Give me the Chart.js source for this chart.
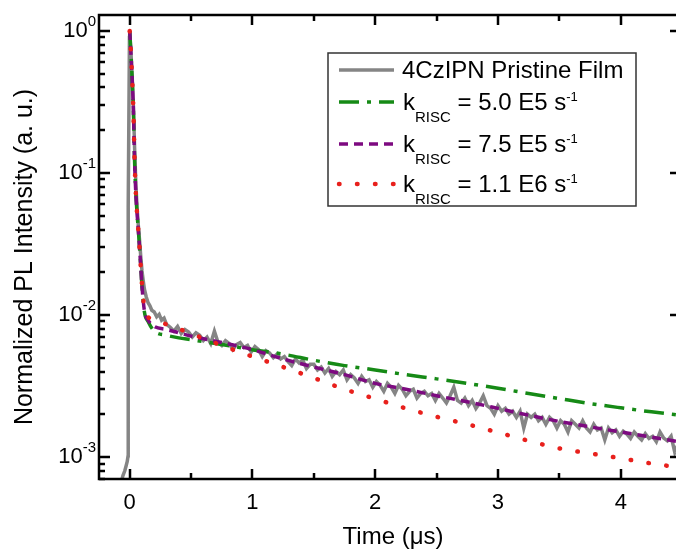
<!DOCTYPE html>
<html>
<head>
<meta charset="utf-8">
<script src="https://cdn.jsdelivr.net/npm/chart.js@4"></script>
<style>
  html, body { margin: 0; padding: 0; background: #fff; overflow: hidden; }
  #wrap { width: 676px; height: 549px; }
</style>
</head>
<body>
<div id="wrap"><canvas id="plChart" width="676" height="549"></canvas></div>
<script>
const riseTime   = [-0.10, -0.07, -0.055, -0.04, -0.03, -0.02, -0.013, -0.012, -0.002, 0];
const riseValues = [5.2e-4, 6.6e-4, 7.4e-4, 8.0e-4, 8.6e-4, 9.3e-4, 1.02e-3, 0.058, 0.9, 1.0];

const decayTime   = [0.01, 0.02, 0.03, 0.04, 0.05, 0.06, 0.07, 0.08, 0.09, 0.10, 0.11,
                     0.12, 0.135, 0.15, 0.165, 0.18, 0.20, 0.22, 0.24, 0.26, 0.28];
const decayValues = [0.72, 0.48, 0.30, 0.15, 0.085, 0.057, 0.043, 0.034, 0.026, 0.0205, 0.0175,
                     0.0152, 0.0134, 0.0122, 0.0116, 0.0108, 0.0105, 0.0097, 0.0101, 0.0092, 0.0095];

// tail sampled every 0.03 us from 0.30 us
const tailStart = 0.30;
const tailStep = 0.03;
const tailValues = [
  0.0086, 0.0082, 0.0077, 0.0083, 0.0074, 0.0079, 0.0076, 0.0070, 0.0075, 0.0072,
  0.0066, 0.0070, 0.0063, 0.0077, 0.0064, 0.0061, 0.0066, 0.0063, 0.0057, 0.0062,
  0.0064, 0.0059, 0.0061, 0.0055, 0.0060, 0.0057, 0.0051, 0.0056, 0.0054, 0.0050,
  0.0053, 0.0049, 0.0051, 0.0047, 0.0044, 0.0049, 0.0046, 0.0048, 0.0042, 0.0045,
  0.0045, 0.0041, 0.0043, 0.0039, 0.0042, 0.0037, 0.0040, 0.0038, 0.0041, 0.0035,
  0.0038, 0.0036, 0.0033, 0.0037, 0.0034, 0.0035, 0.0031, 0.0034, 0.0032, 0.0029,
  0.0033, 0.0031, 0.0028, 0.0032, 0.0030, 0.0027, 0.0029, 0.0030, 0.0026, 0.0028,
  0.0029, 0.0027, 0.0028, 0.0025, 0.0028, 0.0026, 0.0024, 0.0027, 0.0031, 0.0025,
  0.0024, 0.0026, 0.0023, 0.0025, 0.0022, 0.0024, 0.0027, 0.0023, 0.0022, 0.0020,
  0.0023, 0.0021, 0.0022, 0.0020, 0.0021, 0.0019, 0.0021, 0.0016, 0.0020, 0.0019,
  0.0020, 0.0018, 0.0019, 0.0017, 0.0019, 0.0018, 0.0016, 0.0018, 0.0017, 0.0015,
  0.0018, 0.0017, 0.0016, 0.0018, 0.0016, 0.0015, 0.0017, 0.00155, 0.0016, 0.00132,
  0.0016, 0.00148, 0.00155, 0.0014, 0.00152, 0.00145, 0.00135, 0.0015, 0.0014, 0.00132,
  0.00146, 0.00135, 0.0014, 0.00128, 0.0015, 0.00136, 0.0013, 0.0014, 0.00108, 0.00125
];

// simulated decays
const fitTime = [0, 0.01, 0.02, 0.03, 0.04, 0.05, 0.06, 0.07, 0.08, 0.09, 0.10, 0.12, 0.15, 0.20,
                 0.30, 0.40, 0.50, 0.75, 1.00, 1.25, 1.50, 1.75, 2.00, 2.25, 2.50, 2.75, 3.00,
                 3.25, 3.50, 3.75, 4.00, 4.25, 4.50];
const fit50  = [1.0, 0.70, 0.46, 0.28, 0.12, 0.072, 0.052, 0.040, 0.030, 0.022, 0.016, 0.0105, 0.0090, 0.0077,
                0.0072, 0.0069, 0.0067, 0.0062, 0.0057, 0.0053, 0.0048, 0.0044, 0.0041, 0.0038, 0.00355, 0.0033, 0.00305,
                0.0028, 0.00258, 0.00238, 0.00222, 0.00208, 0.00196];
const fit75  = [1.0, 0.70, 0.46, 0.28, 0.12, 0.072, 0.052, 0.040, 0.030, 0.022, 0.016, 0.0107, 0.0092, 0.0083,
                0.0079, 0.0075, 0.0071, 0.0064, 0.0057, 0.0049, 0.0043, 0.0038, 0.0033, 0.0030, 0.0027, 0.00245, 0.0022,
                0.00197, 0.00178, 0.00163, 0.0015, 0.00138, 0.00127];
const fit110 = [1.0, 0.70, 0.46, 0.28, 0.12, 0.072, 0.052, 0.040, 0.030, 0.022, 0.0165, 0.0112, 0.0097, 0.0092,
                0.0086, 0.0080, 0.0074, 0.0061, 0.0051, 0.0043, 0.0036, 0.0030, 0.00257, 0.0022, 0.00192, 0.0017, 0.00149,
                0.0013, 0.00115, 0.00106, 0.00098, 0.0009, 0.00084];

const traceLabel = "4CzIPN Pristine Film";
const rateLabels = ["5.0 E5", "7.5 E5", "1.1 E6"];
const xTickLabels = [0, 1, 2, 3, 4];
const yTickExps = [0, -1, -2, -3];

const FONT = '"Liberation Sans", Arial, sans-serif';

const toPts = (xs, ys) => ys.map((v, i) => ({ x: xs[i], y: v }));
const tailTime = tailValues.map((v, i) => +(tailStart + i * tailStep).toFixed(3));
const grayPts = toPts(riseTime, riseValues)
  .concat(toPts(decayTime, decayValues))
  .concat(toPts(tailTime, tailValues));

function richText(ctx, x, base, parts, measureOnly) {
  // parts: [text, size, dy]
  let w = 0;
  parts.forEach(([t, size, dy]) => {
    ctx.font = size + 'px ' + FONT;
    if (!measureOnly) ctx.fillText(t, x + w, base + dy);
    w += ctx.measureText(t).width;
  });
  return w;
}

const frame = {
  id: 'frame',
  afterDraw(chart) {
    const { ctx, chartArea: a, scales: { x, y } } = chart;
    ctx.save();
    ctx.strokeStyle = '#000';
    ctx.fillStyle = '#000';
    ctx.lineWidth = 2.5;
    ctx.lineCap = 'butt';

    // axis lines (right one falls just off the picture)
    ctx.beginPath();
    ctx.moveTo(a.right + 2, a.top); ctx.lineTo(a.left, a.top);
    ctx.lineTo(a.left, a.bottom); ctx.lineTo(a.right + 2, a.bottom);
    ctx.stroke();

    // x ticks top & bottom, minors at halves
    ctx.beginPath();
    xTickLabels.forEach(v => {
      [v, v + 0.5].forEach(t => {
        if (t > x.max) return;
        const px = Math.round(x.getPixelForValue(t));
        const len = Number.isInteger(t) ? 10 : 6;
        ctx.moveTo(px, a.bottom); ctx.lineTo(px, a.bottom - len);
        ctx.moveTo(px, a.top); ctx.lineTo(px, a.top + len);
      });
    });
    // y ticks left (major + minor) and right (major)
    for (let d = -4; d <= 0; d++) {
      for (let m = 1; m <= 9; m++) {
        const v = m * Math.pow(10, d);
        if (v < y.min || v > y.max) continue;
        const py = Math.round(y.getPixelForValue(v));
        const len = m === 1 ? 11 : 6;
        ctx.moveTo(a.left, py); ctx.lineTo(a.left + len, py);
        if (m === 1) { ctx.moveTo(a.right, py); ctx.lineTo(a.right - 6, py); }
      }
    }
    ctx.stroke();

    // x tick labels
    ctx.textAlign = 'center';
    ctx.textBaseline = 'alphabetic';
    ctx.font = '22px ' + FONT;
    xTickLabels.forEach(v => {
      ctx.fillText(String(v), x.getPixelForValue(v), 509);
    });

    // y tick labels 10^n
    ctx.textAlign = 'left';
    yTickExps.forEach(e => {
      const py = y.getPixelForValue(Math.pow(10, e));
      const parts = [['10', 22, 6], [String(e), 15, -5]];
      const w = richText(ctx, 0, py, parts, true);
      richText(ctx, 96 - w, py, parts, false);
    });

    // axis titles
    ctx.textAlign = 'center';
    ctx.font = '24px ' + FONT;
    ctx.fillText('Time (\u03BCs)', 393, 544);
    ctx.save();
    ctx.translate(32, 257);
    ctx.rotate(-Math.PI / 2);
    ctx.font = '25px ' + FONT;
    ctx.fillText('Normalized PL Intensity (a. u.)', 0, 0);
    ctx.restore();

    // legend
    ctx.lineWidth = 1.5;
    ctx.strokeStyle = '#333';
    ctx.strokeRect(328, 53, 308, 153);
    const rows = [70, 102, 144, 184];
    const sets = chart.data.datasets;
    rows.forEach((ry, i) => {
      const ds = sets[i];
      ctx.save();
      ctx.beginPath();
      ctx.strokeStyle = ds.borderColor;
      ctx.lineWidth = ds.borderWidth;
      ctx.lineCap = ds.borderCapStyle || 'butt';
      ctx.setLineDash(ds.borderDash || []);
      ctx.moveTo(339, ry); ctx.lineTo(394, ry);
      ctx.stroke();
      ctx.restore();
      ctx.textAlign = 'left';
      if (i === 0) {
        richText(ctx, 402, ry + 8, [[traceLabel, 24, 0]]);
      } else {
        richText(ctx, 403, ry + 8, [
          ['k', 24, 0], ['RISC', 15, 12], [' = ' + rateLabels[i - 1] + ' s', 24, 0], ['-1', 13, -9]
        ]);
      }
    });
    ctx.restore();
  }
};

new Chart(document.getElementById('plChart'), {
  type: 'scatter',
  data: {
    datasets: [
      { label: traceLabel, data: grayPts, showLine: true, borderColor: '#858585',
        borderWidth: 3.5, order: 4, tension: 0 },
      { label: rateLabels[0], data: toPts(fitTime, fit50), showLine: true, borderColor: '#168a16',
        borderWidth: 3.5, borderDash: [20, 8, 4, 8], order: 3, cubicInterpolationMode: 'monotone' },
      { label: rateLabels[1], data: toPts(fitTime, fit75), showLine: true, borderColor: '#7d0a80',
        borderWidth: 3.5, borderDash: [9, 6], order: 2, cubicInterpolationMode: 'monotone' },
      { label: rateLabels[2], data: toPts(fitTime, fit110), showLine: true, borderColor: '#e8201c',
        borderWidth: 4.5, borderDash: [0.5, 17.5], borderCapStyle: 'round', order: 1,
        cubicInterpolationMode: 'monotone' }
    ]
  },
  options: {
    responsive: false,
    animation: false,
    devicePixelRatio: 1,
    layout: { padding: { left: 99, top: 15, right: 0, bottom: 70 } },
    elements: { point: { radius: 0 } },
    plugins: { legend: { display: false }, tooltip: { enabled: false } },
    scales: {
      x: { type: 'linear', min: -0.25, max: 4.45, display: false },
      y: { type: 'logarithmic', min: 7.0e-4, max: 1.296, display: false }
    }
  },
  plugins: [frame]
});
</script>
</body>
</html>
